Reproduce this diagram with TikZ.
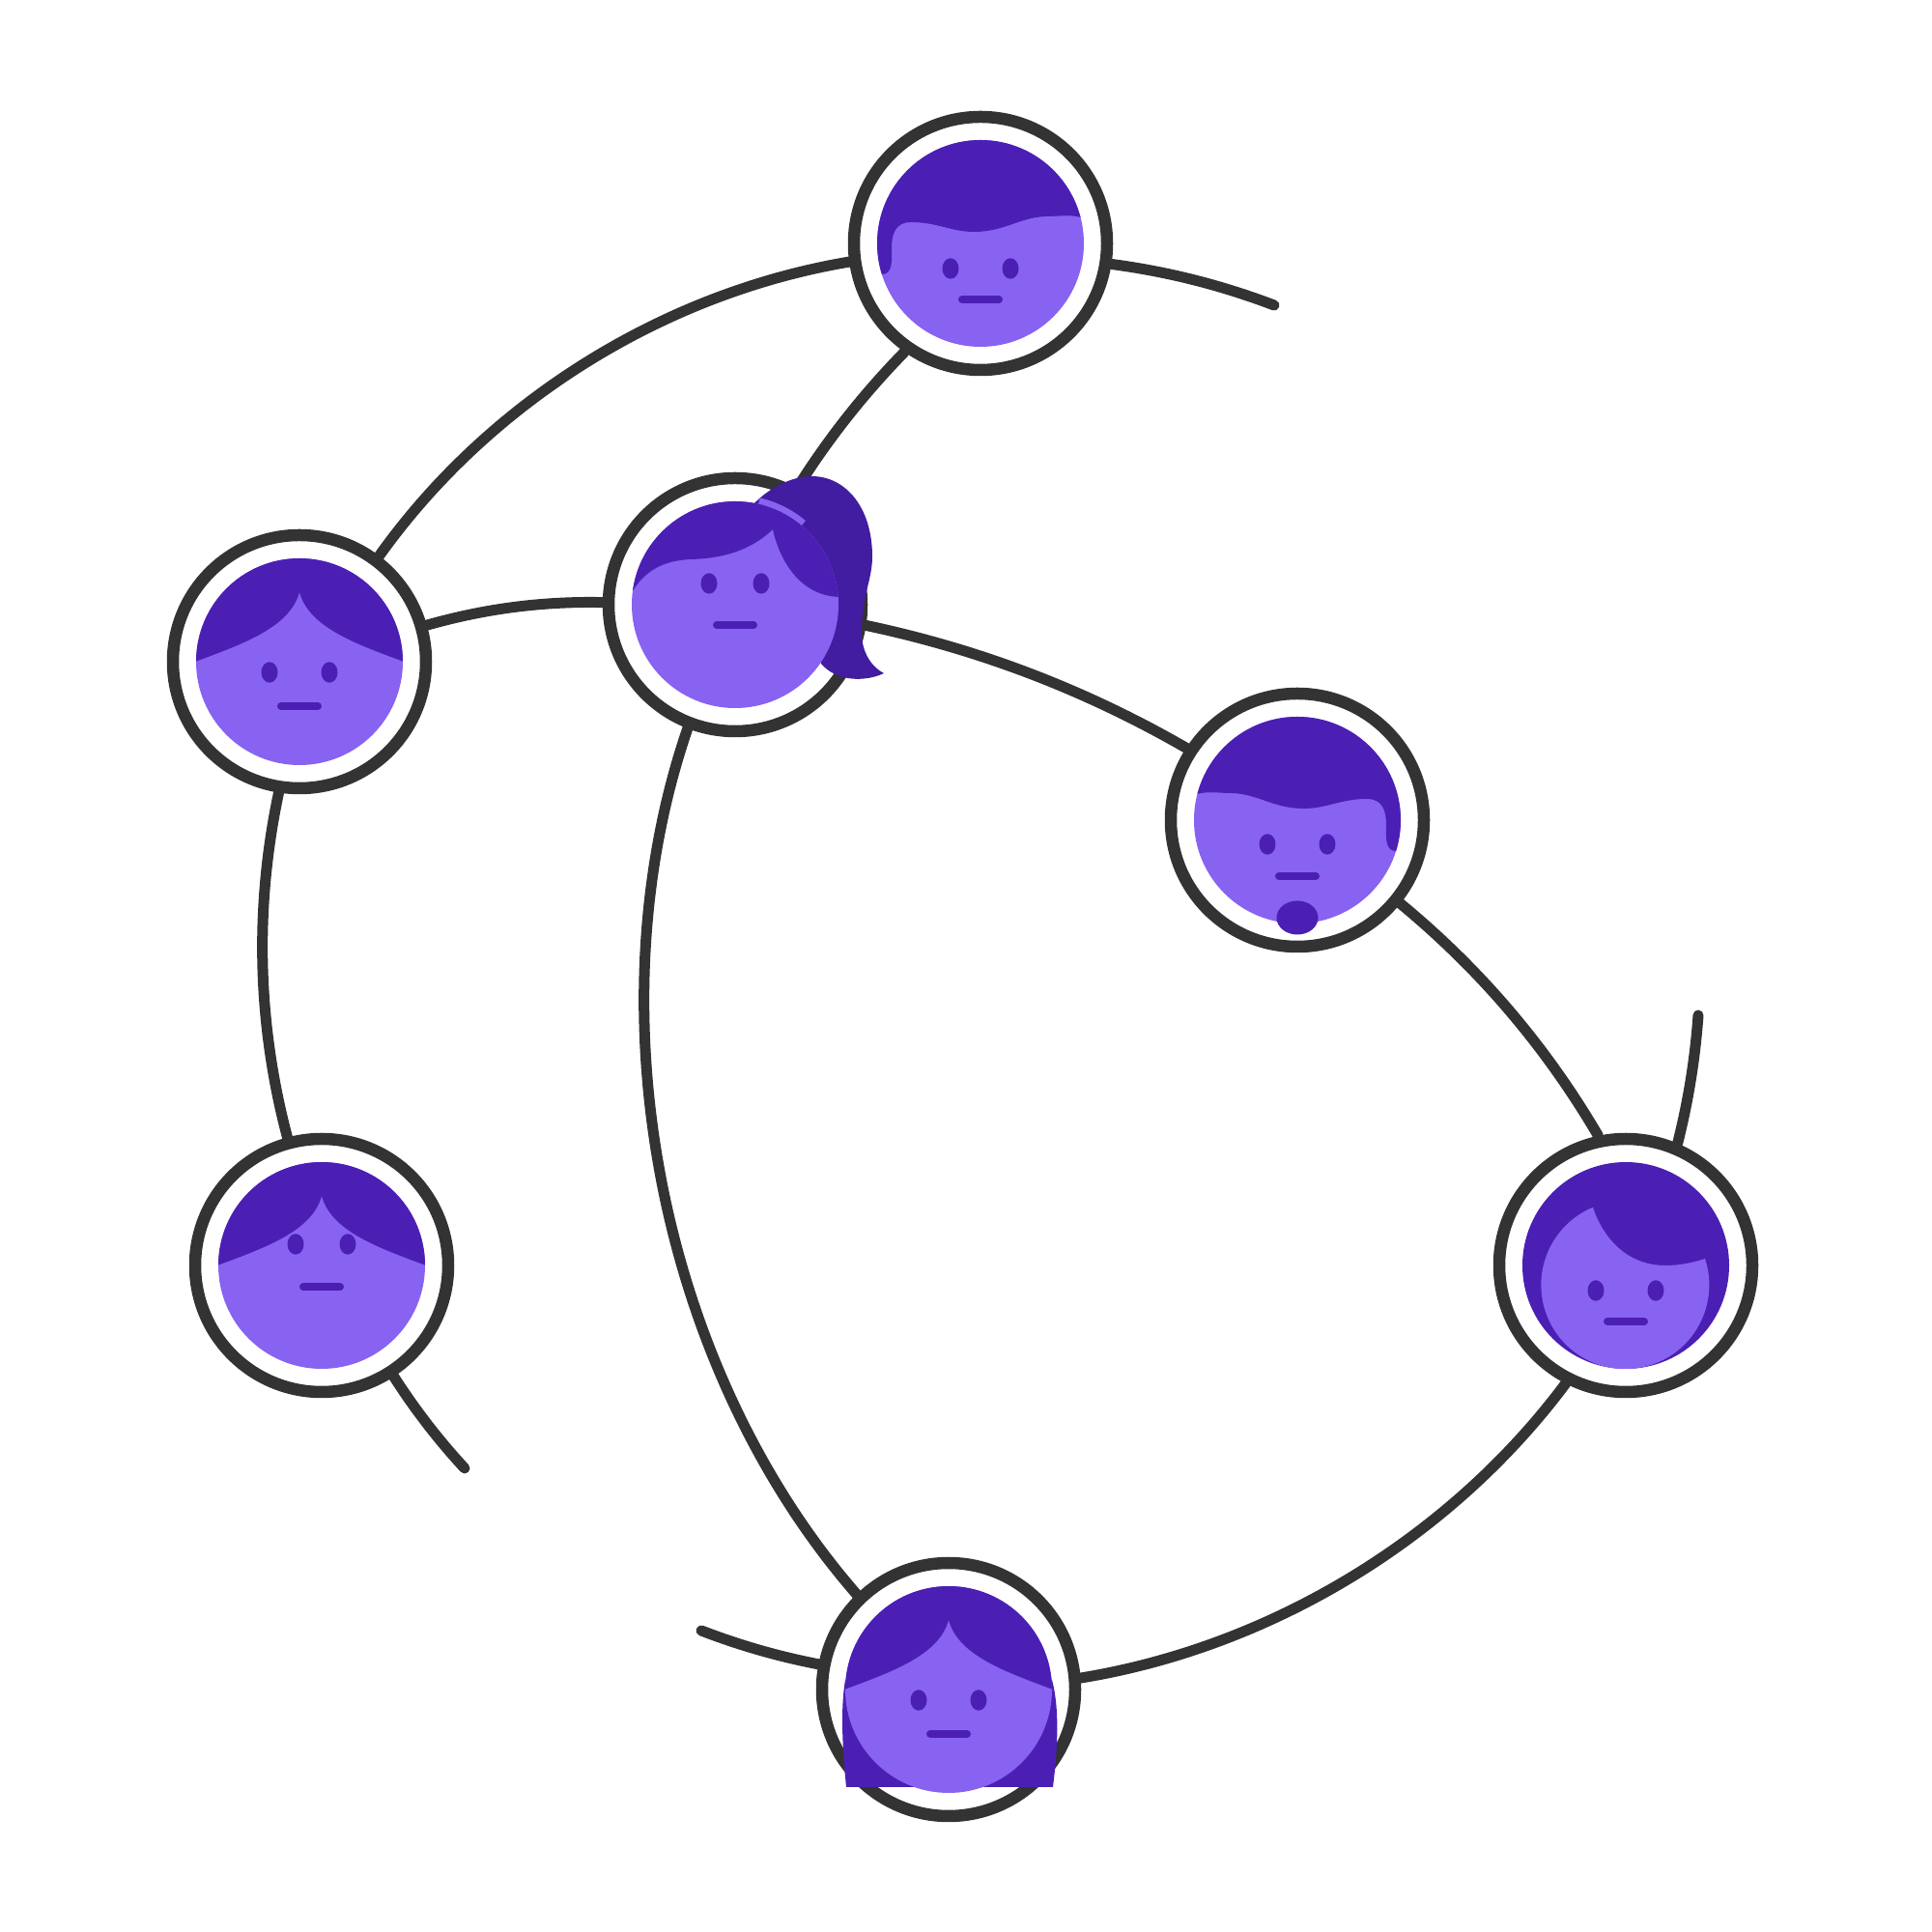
\documentclass[tikz,border=0pt]{standalone}
\usetikzlibrary{
    backgrounds % for the links behind the rings
}

\definecolor{ink}{HTML}{333333}
\definecolor{skin}{HTML}{8862F1}
\definecolor{hair}{HTML}{4B1FB4}
\definecolor{tail}{HTML}{421CA1}

% eyes and mouth: half distance of the eyes, height of the eyes, height of the mouth
\newcommand{\features}[3]{
    \fill [hair] (-#1,#2) ellipse [x radius=.085,y radius=.107];
    \fill [hair] (#1,#2)  ellipse [x radius=.085,y radius=.107];
    \draw [hair,line width=.08cm,line cap=round] (-.19,#3) -- (.19,#3);
}
% round head with the hair given in #1 cut at its edge
\newcommand{\head}[1]{
    \fill [skin] (0,0) circle [radius=1.07];
    \begin{scope}
        \clip (0,0) circle [radius=1.07];
        #1
    \end{scope}
}
\newcommand{\hairwave}{
    \fill [hair] (1.1,.25) .. controls (.95,.31) and (.85,.28) .. (.68,.28)
        .. controls (.40,.27) and (.25,.12) .. (-.07,.12)
        .. controls (-.30,.12) and (-.45,.22) .. (-.72,.22)
        .. controls (-.88,.22) and (-.92,.10) .. (-.92,-.05)
        .. controls (-.92,-.15) and (-.90,-.32) .. (-1.02,-.32)
        -- (-1.3,-.3) -- (-1.3,1.3) -- (1.3,1.3) -- cycle;
}
\newcommand{\hairparted}{
    \fill [hair] (-1.08,0) .. controls (-.6,.18) and (-.1,.35) .. (0,.72)
        .. controls (.1,.35) and (.6,.18) .. (1.08,0)
        -- (1.3,0) -- (1.3,1.3) -- (-1.3,1.3) -- (-1.3,0) -- cycle;
}

\begin{document}
\begin{tikzpicture}[
    ring/.style = {circle,draw=ink,fill=white,line width=.125cm,minimum size=2.62cm,inner sep=0pt},
    link/.style = {draw=ink,line width=.11cm,line cap=round,looseness=.87}
]
\useasboundingbox (0,0) rectangle (20,20);

% rings

    \node [ring] (top)    at (10.15,17.48) {};
    \node [ring] (pony)   at (7.61,13.74)  {};
    \node [ring] (parted) at (3.10,13.15)  {};
    \node [ring] (fringe) at (3.33,6.90)   {};
    \node [ring] (beard)  at (13.43,11.51) {};
    \node [ring] (quiff)  at (16.83,6.90)  {};
    \node [ring] (long)   at (9.82,2.51)   {};

    \coordinate (endtop)    at (13.19,16.84);
    \coordinate (endfringe) at (4.81,4.80);
    \coordinate (endlong)   at (7.26,3.12);
    \coordinate (endquiff)  at (17.58,9.49);

% links

\begin{scope}[on background layer]
    \draw [link] (top.351)    to [bend left=6.6]   (endtop);
    \draw [link] (top.188)    to [bend right=22.5] (parted.53);
    \draw [link] (parted.261) to [bend right=13.4] (fringe.105);
    \draw [link] (fringe.303) to [bend right=5]    (endfringe);
    \draw [link] (endlong)    to [bend right=5]    (long.169);
    \draw [link] (long.5)     to [bend right=22]   (quiff.243);
    \draw [link] (quiff.67)   to [bend right=5]    (endquiff);
    \draw [link] (parted.16)  to [bend left=8.5]   (pony.179);
    \draw [link] (pony.62)    to [bend left=6]     (top.235);
    \draw [link] (pony.351)   to [bend left=9]     (beard.147);
    \draw [link] (beard.321)  to [bend left=10]    (quiff.102);
    \draw [link] (pony.249)   to [bend right=30]   (long.134);
\end{scope}

% faces

\begin{scope}[shift={(top)}]
    \head{\hairwave}
    \features{.31}{-.26}{-.58}
\end{scope}

\begin{scope}[shift={(parted)}]
    \head{\hairparted}
    \features{.31}{-.11}{-.46}
\end{scope}

\begin{scope}[shift={(fringe)}]
    \head{\hairparted}
    \features{.27}{.22}{-.22}
\end{scope}

\begin{scope}[shift={(beard)}]
    \head{\begin{scope}[xscale=-1]\hairwave\end{scope}}
    \features{.31}{-.25}{-.58}
    \fill [hair] (0,-1.01) ellipse [x radius=.215,y radius=.175];
\end{scope}

\begin{scope}[shift={(quiff)}]
    \fill [hair] (0,0) circle [radius=1.07];
    \fill [skin] (-.34,.60) .. controls (-.24,.30) and (0,0) .. (.41,0)
        .. controls (.56,0) and (.70,.03) .. (.82,.07)
        arc [start angle=18.2,end angle=-247,radius=.87] -- cycle;
    \features{.31}{-.26}{-.58}
\end{scope}

\begin{scope}[shift={(long)}]
    \fill [hair] (-1.07,.1) .. controls (-1.12,-.2) and (-1.10,-.6) .. (-1.06,-1.01)
        -- (1.08,-1.01) .. controls (1.13,-.6) and (1.15,-.2) .. (1.07,.1) -- cycle;
    \head{\hairparted}
    \features{.31}{-.11}{-.46}
\end{scope}

\begin{scope}[shift={(pony)}]
    \fill [tail] (.19,1.04) .. controls (.36,1.22) and (.60,1.33) .. (.79,1.33)
        .. controls (1.15,1.33) and (1.42,1.0) .. (1.42,.50)
        .. controls (1.42,.25) and (1.31,.10) .. (1.31,-.29)
        .. controls (1.31,-.50) and (1.42,-.65) .. (1.54,-.71)
        .. controls (1.35,-.80) and (1.05,-.80) .. (.89,-.61) -- cycle;
    \draw [skin,line width=.07cm] (77:1.1) arc [start angle=77,end angle=50,radius=1.1];
    \head{\fill [hair] (-1.10,.08) .. controls (-.95,.35) and (-.75,.46) .. (-.45,.47)
        .. controls (-.15,.48) and (.15,.55) .. (.39,.78)
        .. controls (.45,.50) and (.65,.08) .. (1.10,.08)
        -- (1.3,1.3) -- (-1.3,1.3) -- cycle;}
    \features{.27}{.22}{-.21}
\end{scope}

\end{tikzpicture}
\end{document}
